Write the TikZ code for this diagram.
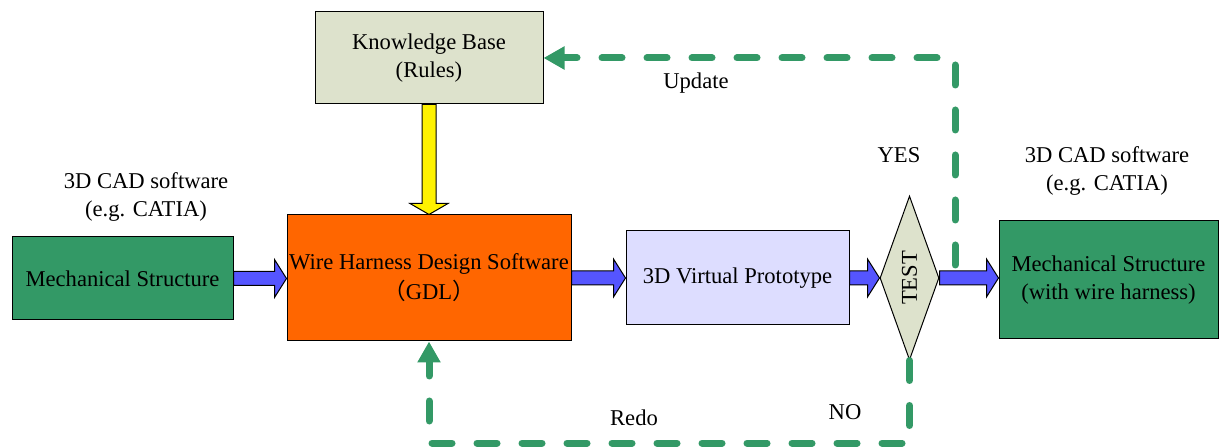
\documentclass[tikz,border=0pt]{standalone}
\usepackage{fontspec}
\setmainfont{Liberation Serif}
\newfontfamily\cjk{Noto Sans CJK SC}
\usetikzlibrary{shapes.geometric,arrows.meta,calc}
\definecolor{cadgreen}{HTML}{339966}
\definecolor{gdlorange}{HTML}{FF6600}
\definecolor{kbgrey}{HTML}{DDE2CC}
\definecolor{protoblue}{HTML}{DDDDFF}
\definecolor{arrowblue}{HTML}{5555FF}
\tikzset{
  box/.style={draw, line width=0.5pt, align=center, inner sep=0pt},
  blockarrow/.style={draw, line width=0.5pt, fill=arrowblue},
  loopline/.style={cadgreen, line width=3.5pt, line cap=round, dash pattern=on 10pt off 12.5pt,
    -{Triangle[length=10.5pt,width=11pt]}},
}
% horizontal fat arrow from #1 to #2
\newcommand{\harrow}[2]{\draw[blockarrow] let \p1=(#1), \p2=(#2) in
  (\x1,\y1+3.5pt) -- (\x2-6pt,\y1+3.5pt) -- (\x2-6pt,\y1+9.5pt) -- (\x2,\y1)
  -- (\x2-6pt,\y1-9.5pt) -- (\x2-6pt,\y1-3.5pt) -- (\x1,\y1-3.5pt) -- cycle;}
\begin{document}
\begin{tikzpicture}[x=0.5pt, y=-0.5pt, font=\fontsize{11.3}{14}\selectfont]
    \useasboundingbox (0,0) rectangle (1220,448);
    % boxes
    \node[box, fill=kbgrey, minimum width=114pt, minimum height=46pt] (kb) at (429,58) {Knowledge Base\\(Rules)};
    \node[box, fill=gdlorange, minimum width=142pt, minimum height=63pt] (gdl) at (429,278)
        {Wire Harness Design Software\\[1pt]{\cjk （}GDL{\cjk ）}};
    \node[box, fill=cadgreen, minimum width=110.5pt, minimum height=41.5pt] (mechL) at (122.5,278.5) {Mechanical Structure};
    \node[box, fill=protoblue, minimum width=111.5pt, minimum height=47pt] (proto) at (737.5,278) {3D Virtual Prototype};
    \node[diamond, draw, line width=0.5pt, fill=kbgrey, inner sep=0pt, aspect=0.36,
        minimum width=29.5pt, minimum height=82pt] (test) at (909.5,278) {\rotatebox{90}{TEST}};
    \node[box, fill=cadgreen, minimum width=109.5pt, minimum height=59pt] (mechR) at (1108.5,280)
        {Mechanical Structure\\(with wire harness)};
    % labels
    \node[align=center] (cadL) at (146,197) {3D CAD software\\(e.g. CATIA)};
    \node[align=center] (cadR) at (1107,171) {3D CAD software\\(e.g. CATIA)};
    \node (yes) at (899,155) {YES};
    \node (update) at (696,83) {Update};
    \node (no) at (845,412) {NO};
    \node (redo) at (634,418) {Redo};
    \coordinate (upd) at (955,277);
    \coordinate (bot) at (0,443);
    % flow arrows
    \harrow{mechL.east}{gdl.west}
    \harrow{gdl.east}{proto.west}
    \harrow{proto.east}{test.west}
    \harrow{test.east}{mechR.west}
    \draw[line width=0.5pt, fill=yellow] let \p1=(kb.south), \p2=(gdl.north) in
        (\x1-3.5pt,\y1) -- (\x1-3.5pt,\y2+5.5pt) -- (\x1-9.5pt,\y2+5.5pt) -- (\x2,\y2)
        -- (\x1+9.5pt,\y2+5.5pt) -- (\x1+3.5pt,\y2+5.5pt) -- (\x1+3.5pt,\y1) -- cycle;
    % loops
    \draw[loopline, dash phase=-6pt] (upd) |- (kb.east);
    \draw[loopline] (test.south) -- (test.south |- bot) -| (gdl.south);
\end{tikzpicture}
\end{document}
